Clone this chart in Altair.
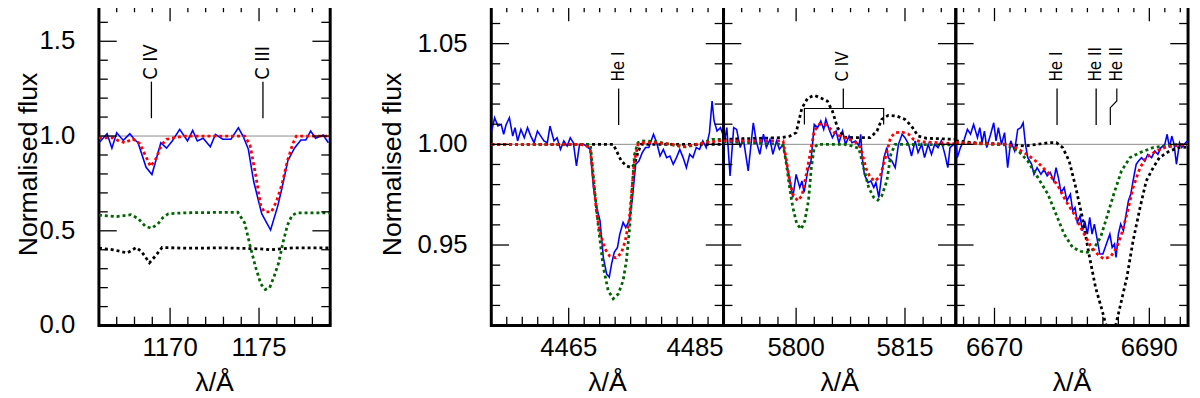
import altair as alt
import pandas as pd

H = 326
FONT = "Liberation Sans"
NARROW = "Liberation Sans Narrow, DejaVu Sans Condensed, Liberation Sans"

# ---------------- UV panel (C IV / C III) ----------------
UV_XDOM = [1166, 1179]
UV_YDOM = [0.0, 1.7]
UV_XMAJ = [1170, 1175]
UV_XMIN = [1167, 1168, 1169, 1171, 1172, 1173, 1174, 1176, 1177, 1178]
UV_YLAB = [0.0, 0.5, 1.0, 1.5]
UV_YMAJ = [0.5, 1.0, 1.5]
UV_YMIN = [0.1, 0.2, 0.3, 0.4, 0.6, 0.7, 0.8, 0.9, 1.1, 1.2, 1.3, 1.4, 1.6]
UV_OBS = [(1166.0, 0.965), (1166.46, 1.012), (1166.73, 0.936), (1167.0, 1.017), (1167.37, 0.977),
          (1167.74, 1.012), (1167.98, 0.983), (1168.2, 0.965), (1168.65, 0.835), (1168.98, 0.797),
          (1169.48, 0.965), (1169.8, 0.936), (1170.12, 0.974), (1170.54, 1.035), (1170.98, 0.974),
          (1171.27, 1.03), (1171.53, 0.974), (1171.86, 0.988), (1172.26, 0.943), (1172.55, 1.009),
          (1172.96, 0.983), (1173.42, 0.983), (1173.84, 1.043), (1174.1, 1.0), (1174.4, 0.93),
          (1174.7, 0.76), (1175.15, 0.59), (1175.65, 0.504), (1176.05, 0.63), (1176.3, 0.73),
          (1176.62, 0.87), (1176.99, 0.936), (1177.35, 0.979), (1177.63, 0.979), (1177.9, 1.026),
          (1178.18, 0.988), (1178.6, 1.005), (1178.9, 0.965)]
UV_COMP = [(1166.0, 0.99), (1166.8, 0.99), (1167.1, 0.975), (1167.45, 0.965), (1167.9, 0.985),
           (1168.3, 0.96), (1168.6, 0.90), (1168.9, 0.84), (1169.2, 0.88), (1169.5, 0.95),
           (1169.8, 0.983), (1170.2, 0.99), (1170.8, 1.0), (1174.2, 1.0), (1174.5, 0.95),
           (1174.8, 0.80), (1175.1, 0.63), (1175.3, 0.60), (1175.7, 0.60), (1176.0, 0.66),
           (1176.3, 0.75), (1176.6, 0.87), (1176.9, 0.96), (1177.1, 1.0), (1179.0, 1.0)]
UV_PRIM = [(1166.0, 0.583), (1167.0, 0.575), (1167.8, 0.585), (1168.2, 0.565), (1168.6, 0.525),
           (1168.95, 0.513), (1169.3, 0.535), (1169.6, 0.57), (1169.9, 0.59), (1170.8, 0.595),
           (1173.8, 0.598), (1174.2, 0.54), (1174.5, 0.42), (1174.8, 0.31), (1175.1, 0.22),
           (1175.35, 0.19), (1175.6, 0.20), (1175.85, 0.26), (1176.1, 0.33), (1176.35, 0.44),
           (1176.6, 0.53), (1176.85, 0.58), (1177.1, 0.594), (1179.0, 0.594)]
UV_SEC = [(1166.0, 0.409), (1166.8, 0.40), (1167.6, 0.383), (1168.1, 0.412), (1168.4, 0.39),
          (1168.84, 0.331), (1169.2, 0.37), (1169.55, 0.412), (1171.0, 0.408), (1173.0, 0.41),
          (1175.0, 0.405), (1175.6, 0.40), (1176.2, 0.405), (1177.0, 0.41), (1179.0, 0.41)]
UV_IDS = [("C IV", 1168.95), ("C III", 1175.22)]
UV_ID_FTEXT = 1.297
UV_ID_F = [1.094, 1.287]

# ---------------- He I 4471 panel ----------------
P2_XDOM = [4455, 4485]
P2_XMAJ = [4465, 4485]
P2_XFLUSH = [4485]
P2_XMIN = [4457, 4459, 4461, 4463, 4467, 4469, 4471, 4473, 4475, 4477, 4479, 4481, 4483]
P2_OBS = [(4455.0, 1.0058), (4455.43, 1.0132), (4455.85, 1.0091), (4456.28, 1.0099), (4456.6, 1.005),
          (4456.9, 1.0096), (4457.34, 1.0132), (4457.77, 1.0041), (4458.07, 1.0083), (4458.4, 1.0017),
          (4458.83, 1.0074), (4459.26, 1.0033), (4459.68, 1.0083), (4460.1, 1.0041), (4460.53, 1.0008),
          (4460.96, 1.0066), (4461.39, 1.0041), (4461.8, 1.0017), (4462.24, 1.0008), (4462.58, 1.0091),
          (4463.1, 1.0017), (4463.5, 1.0033), (4463.94, 0.9975), (4464.37, 1.0017), (4464.8, 0.9992),
          (4465.2, 1.0033), (4465.6, 1.0008), (4466.0, 0.9893), (4466.4, 1.0), (4466.92, 1.0),
          (4467.35, 0.999), (4467.77, 0.9975), (4468.2, 0.9785), (4468.62, 0.9686), (4469.05, 0.962),
          (4469.47, 0.9439), (4469.9, 0.9356), (4470.24, 0.934), (4470.54, 0.9406), (4470.88, 0.9464),
          (4471.3, 0.9488), (4471.6, 0.9554), (4472.03, 0.9612), (4472.37, 0.9587), (4472.8, 0.962),
          (4473.2, 0.972), (4473.65, 0.9901), (4474.07, 0.9917), (4474.5, 0.9959), (4474.92, 0.9984),
          (4475.35, 0.9984), (4475.95, 1.005), (4476.37, 1.0008), (4476.8, 0.9942), (4477.22, 0.9975),
          (4477.65, 0.9934), (4478.07, 0.9942), (4478.5, 0.9901), (4478.92, 0.9934), (4479.35, 0.9975),
          (4479.78, 0.9934), (4480.2, 0.9884), (4480.63, 0.995), (4481.05, 0.9934), (4481.48, 0.9984),
          (4481.9, 0.9975), (4482.33, 1.0017), (4482.76, 0.9984), (4483.18, 1.0058), (4483.52, 1.0215),
          (4483.78, 1.0116), (4484.16, 1.0066), (4484.6, 1.0083), (4485.0, 1.0041)]
P2_COMP = [(4455.0, 1.0), (4466.5, 1.0), (4467.4, 0.999), (4467.8, 0.997), (4468.2, 0.982),
           (4468.6, 0.966), (4469.05, 0.956), (4469.7, 0.948), (4470.3, 0.9445), (4471.1, 0.9436),
           (4471.8, 0.946), (4472.3, 0.952), (4472.8, 0.962), (4473.1, 0.975), (4473.5, 0.992),
           (4473.95, 1.0), (4474.6, 1.0008), (4476.3, 1.0008), (4478.4, 1.0), (4479.7, 0.9987),
           (4481.0, 0.9997), (4482.7, 1.0008), (4485.0, 1.002)]
P2_PRIM = [(4455.0, 1.0), (4467.8, 1.0), (4468.4, 0.9752), (4468.84, 0.9587), (4469.47, 0.9389),
           (4470.1, 0.9274), (4470.75, 0.9233), (4471.4, 0.9257), (4472.03, 0.9323), (4472.45, 0.9422),
           (4472.88, 0.9587), (4473.2, 0.9785), (4473.5, 0.995), (4473.94, 1.0008), (4474.6, 1.0017),
           (4476.3, 1.0013), (4478.4, 0.9997), (4480.1, 0.9987), (4481.8, 1.0), (4483.5, 1.0025),
           (4485.0, 1.0025)]
P2_SEC = [(4455.0, 1.0), (4470.75, 1.0), (4471.18, 0.9967), (4471.8, 0.9917), (4472.45, 0.9893),
          (4473.1, 0.9884), (4473.5, 0.99), (4473.94, 0.9959), (4474.37, 1.0), (4485.0, 1.0)]
P2_IDS = [("He I", 4471.45)]

# ---------------- C IV 5801/5812 panel ----------------
P3_XDOM = [5790, 5822]
P3_XMAJ = [5800, 5815]
P3_XMIN = [5792.5, 5795, 5797.5, 5802.5, 5805, 5807.5, 5810, 5812.5, 5817.5, 5820]
P3_OBS = [(5790.0, 0.9984), (5790.45, 1.0083), (5790.9, 0.9843), (5791.4, 1.0083), (5791.8, 1.0074),
          (5792.3, 0.9984), (5792.7, 1.0033), (5793.4, 0.9868), (5794.1, 1.0107), (5794.5, 1.0017),
          (5795.0, 0.995), (5795.5, 1.005), (5795.9, 0.9984), (5796.4, 1.0025), (5796.8, 0.995),
          (5797.3, 1.0017), (5797.7, 0.9975), (5798.2, 1.0), (5798.6, 0.9917), (5799.1, 0.9835),
          (5799.55, 0.9736), (5800.0, 0.9851), (5800.5, 0.9785), (5800.8, 0.9818), (5801.1, 0.9761),
          (5801.6, 0.9868), (5802.05, 0.9917), (5802.5, 1.0099), (5802.96, 1.0083), (5803.4, 1.0116),
          (5803.8, 1.0074), (5804.1, 1.0124), (5804.55, 1.0074), (5805.0, 1.0033), (5805.5, 1.0066),
          (5805.9, 1.0008), (5806.4, 1.0066), (5806.8, 1.0), (5807.3, 1.0041), (5807.7, 1.0008),
          (5808.2, 1.0017), (5808.65, 0.9992), (5808.9, 1.005), (5809.1, 0.9934), (5809.4, 0.9851),
          (5809.9, 0.981), (5810.3, 0.9818), (5810.7, 0.9785), (5811.0, 0.981), (5811.4, 0.9736),
          (5811.8, 0.9851), (5812.1, 0.9934), (5812.5, 0.9984), (5812.7, 0.9934), (5813.2, 0.9917),
          (5813.65, 0.9884), (5814.1, 1.0), (5814.6, 1.005), (5815.0, 1.0033), (5815.5, 1.0),
          (5815.9, 0.9942), (5816.4, 1.0017), (5816.8, 0.9959), (5817.3, 1.0), (5817.7, 0.9934),
          (5818.2, 1.0), (5818.65, 0.995), (5819.1, 1.0), (5819.55, 0.9984), (5820.0, 1.0017),
          (5820.5, 0.995), (5820.9, 0.9884), (5821.2, 0.9984), (5821.7, 1.0), (5822.0, 1.0008)]
P3_COMP = [(5790.0, 1.0017), (5798.2, 1.0017), (5798.6, 0.9934), (5799.1, 0.9818), (5799.55, 0.9752),
           (5800.2, 0.972), (5800.8, 0.9744), (5801.4, 0.9851), (5802.0, 0.9967), (5802.5, 1.0066),
           (5803.2, 1.0099), (5803.9, 1.0099), (5804.55, 1.0083), (5805.5, 1.005), (5806.6, 1.0033),
           (5808.0, 1.0017), (5808.9, 0.9984), (5809.6, 0.9884), (5810.2, 0.9835), (5810.9, 0.9818),
           (5811.6, 0.9843), (5812.3, 0.9934), (5813.0, 1.0033), (5813.65, 1.0058), (5814.6, 1.0061),
           (5815.5, 1.005), (5816.15, 1.0025), (5817.1, 1.0013), (5819.8, 1.0008), (5822.0, 1.0003)]
P3_PRIM = [(5790.0, 1.0013), (5798.2, 1.0), (5798.6, 0.9917), (5799.1, 0.9785), (5799.55, 0.9686),
           (5800.1, 0.9604), (5800.7, 0.9579), (5801.2, 0.962), (5801.7, 0.972), (5802.1, 0.9884),
           (5802.5, 0.9984), (5803.0, 1.0), (5807.0, 1.0), (5808.65, 0.998), (5809.3, 0.9884),
           (5810.0, 0.9785), (5810.7, 0.9736), (5811.25, 0.9723), (5811.8, 0.9744), (5812.5, 0.9818),
           (5813.05, 0.995), (5813.65, 1.0), (5822.0, 0.9997)]
P3_SEC = [(5790.0, 1.0025), (5798.0, 1.0033), (5799.1, 1.004), (5800.0, 1.0058), (5800.8, 1.018),
          (5801.6, 1.023), (5802.5, 1.0243), (5803.4, 1.023), (5804.3, 1.0215), (5805.0, 1.0165),
          (5805.7, 1.0083), (5806.6, 1.0036), (5808.0, 1.0033), (5810.2, 1.0033), (5811.15, 1.0066),
          (5811.8, 1.0124), (5812.7, 1.0144), (5813.9, 1.014), (5815.0, 1.0124), (5815.9, 1.0091),
          (5816.8, 1.0041), (5818.0, 1.003), (5822.0, 1.0025)]
P3_IDS = [("C IV", 5806.4)]
P3_BRACKET = [(5801.14, 1.0099), (5801.14, 1.0178), (5812.06, 1.0178), (5812.06, 1.0099)]
P3_STEM = [(5806.5, 1.0178, 1.0277)]

# ---------------- He I 6678 / He II 6683 panel ----------------
P4_XDOM = [6665, 6695]
P4_XMAJ = [6670, 6690]
P4_XMIN = [6666, 6668, 6672, 6674, 6676, 6678, 6680, 6682, 6684, 6686, 6688, 6692, 6694]
P4_OBS = [(6665.0, 1.0017), (6665.2, 0.9934), (6665.6, 0.9984), (6666.1, 1.0025), (6666.5, 1.0074),
          (6666.9, 1.005), (6667.3, 1.0099), (6667.8, 1.0033), (6668.1, 1.0083), (6668.4, 1.0008),
          (6668.7, 1.0066), (6669.0, 0.9984), (6669.5, 1.005), (6669.9, 1.0107), (6670.2, 1.0017),
          (6670.5, 1.0083), (6670.9, 1.0), (6671.3, 1.0058), (6671.7, 0.9884), (6672.1, 1.0017),
          (6672.6, 0.9967), (6673.0, 1.0074), (6673.4, 1.0083), (6673.7, 1.0107), (6674.0, 1.0),
          (6674.3, 0.9934), (6674.8, 0.9901), (6675.1, 0.9851), (6675.5, 0.9884), (6676.0, 0.9851),
          (6676.4, 0.9876), (6676.8, 0.9843), (6677.2, 0.986), (6677.65, 0.9818), (6677.95, 0.9884),
          (6678.25, 0.9835), (6678.6, 0.9761), (6679.0, 0.9785), (6679.35, 0.972), (6679.8, 0.9752),
          (6680.1, 0.967), (6680.4, 0.9686), (6680.7, 0.9612), (6681.05, 0.9645), (6681.35, 0.9571),
          (6681.65, 0.962), (6682.0, 0.9554), (6682.3, 0.9637), (6682.6, 0.9554), (6682.9, 0.9604),
          (6683.3, 0.9521), (6683.6, 0.9455), (6684.0, 0.9455), (6684.45, 0.9505), (6684.9, 0.9554),
          (6685.2, 0.9488), (6685.5, 0.9505), (6685.7, 0.9439), (6686.0, 0.9554), (6686.3, 0.9604),
          (6686.65, 0.9571), (6687.0, 0.9653), (6687.3, 0.972), (6687.6, 0.9752), (6687.9, 0.9818),
          (6688.3, 0.9901), (6688.6, 0.9917), (6689.0, 0.9934), (6689.4, 0.9917), (6689.8, 0.995),
          (6690.3, 0.9934), (6690.7, 0.9967), (6691.1, 0.995), (6691.5, 0.9984), (6692.0, 1.0),
          (6692.3, 1.005), (6692.6, 0.9984), (6692.9, 1.0041), (6693.2, 1.0), (6693.5, 0.9901),
          (6693.9, 1.0008), (6694.2, 0.9984), (6694.5, 1.0), (6694.9, 1.0017)]
P4_COMP = [(6665.0, 1.0008), (6671.8, 1.0), (6673.1, 0.9975), (6674.3, 0.9947), (6675.6, 0.9909),
           (6676.9, 0.986), (6678.2, 0.9794), (6679.2, 0.972), (6680.3, 0.9653), (6681.35, 0.9571),
           (6682.4, 0.9497), (6683.3, 0.9455), (6684.1, 0.9431), (6685.0, 0.9442), (6685.8, 0.9488),
           (6686.4, 0.9554), (6687.1, 0.9653), (6687.9, 0.9785), (6688.8, 0.9884), (6689.6, 0.9934),
           (6690.9, 0.9967), (6692.2, 0.9987), (6695.0, 1.0)]
P4_PRIM = [(6665.0, 1.0008), (6671.5, 0.9997), (6673.1, 0.9967), (6674.3, 0.9917), (6675.6, 0.9835),
           (6676.9, 0.9752), (6677.95, 0.9653), (6679.0, 0.9554), (6680.1, 0.9488), (6681.1, 0.9469),
           (6682.0, 0.9464), (6682.8, 0.948), (6683.7, 0.9538), (6684.5, 0.9637), (6685.4, 0.9752),
           (6686.4, 0.9868), (6687.5, 0.9934), (6688.8, 0.9959), (6690.5, 0.9984), (6693.0, 0.9997),
           (6695.0, 1.0)]
P4_SEC = [(6665.0, 1.0017), (6667.5, 1.0008), (6671.5, 1.0), (6673.9, 0.9992), (6675.6, 1.0),
          (6676.9, 1.0008), (6678.0, 1.0008), (6678.8, 0.9984), (6679.65, 0.9917), (6680.5, 0.9785),
          (6681.35, 0.9637), (6682.2, 0.9455), (6683.05, 0.929), (6683.9, 0.9175), (6684.7, 0.906),
          (6685.4, 0.906), (6686.2, 0.9191), (6687.1, 0.934), (6687.9, 0.9521), (6688.8, 0.9686),
          (6689.6, 0.9818), (6690.5, 0.9884), (6691.3, 0.9934), (6692.6, 0.9967), (6693.9, 0.9984),
          (6695.0, 0.9987)]
P4_IDS = [("He I", 6678.05), ("He II", 6683.15), ("He II", 6685.8)]
P4_STRAIGHT = [6678.08, 6683.13]
P4_KINK = [(6685.8, 1.0277), (6685.8, 1.0215), (6684.96, 1.0182), (6684.96, 1.0096)]

# ---------------- shared optical y axis ----------------
OPT_YDOM = [0.91, 1.07]
OPT_YLAB = [0.95, 1.00, 1.05]
OPT_YMAJ = [0.95, 1.00, 1.05]
OPT_YMIN = [0.92, 0.93, 0.94, 0.96, 0.97, 0.98, 0.99, 1.01, 1.02, 1.03, 1.04, 1.06]
OPT_ID_FTEXT = 1.0312
OPT_ID_F = [1.0096, 1.0277]

X_TITLE = "λ/Å"
Y_TITLE = "Normalised flux"

MAJOR_LEN = 18   # tick lengths in pixels
MINOR_LEN = 9


def df(pairs):
    return pd.DataFrame(pairs, columns=["lam", "f"])


def panel(W, xdom, ydom, xmaj, xmin, xflush, ymaj, ymin, ylab, ydec, obs, comp, prim, sec,
          ids, id_ftext, id_f, extras, ytitle_off, id_size):
    xsc = alt.Scale(domain=xdom, nice=False, zero=False)
    ysc = alt.Scale(domain=ydom, nice=False, zero=False)
    xspan = xdom[1] - xdom[0]
    yspan = ydom[1] - ydom[0]

    def X(field):
        return alt.X(field, scale=xsc, axis=None)

    def Y(field):
        return alt.Y(field, scale=ysc, axis=None)

    ref = alt.Chart(pd.DataFrame({"lam": xdom, "f": [1.0, 1.0]})).mark_line(
        color="#8c8c8c", strokeWidth=1).encode(x=X("lam:Q"), y=Y("f:Q"))

    def line(pairs, color, dotted):
        style = dict(strokeWidth=2.8, strokeDash=[3, 3]) if dotted else dict(strokeWidth=1.6)
        return alt.Chart(df(pairs)).mark_line(color=color, clip=True, **style).encode(
            x=X("lam:Q"), y=Y("f:Q"))

    layers = [ref, line(obs, "#0000ff", False), line(sec, "black", True),
              line(prim, "#006400", True), line(comp, "#ff0000", True)]

    # all straight segments (inward ticks on four sides + line-identification marks)
    seg = []
    for vals, ln in ((xmaj, MAJOR_LEN), (xmin, MINOR_LEN)):
        d = ln / H * yspan
        for v in vals:
            seg.append((v, ydom[0], v, ydom[0] + d))
            seg.append((v, ydom[1], v, ydom[1] - d))
    for vals, ln in ((ymaj, MAJOR_LEN), (ymin, MINOR_LEN)):
        d = ln / W * xspan
        for v in vals:
            seg.append((xdom[0], v, xdom[0] + d, v))
            seg.append((xdom[1], v, xdom[1] - d, v))
    straight = extras.get("straight", [lam for _, lam in ids])
    for lam in straight:
        seg.append((lam, id_f[0], lam, id_f[1]))
    for lam, f1, f2 in extras.get("stem", []):
        seg.append((lam, f1, lam, f2))
    seg_df = pd.DataFrame(seg, columns=["sx", "sy", "sx2", "sy2"])
    layers.append(alt.Chart(seg_df).mark_rule(color="black", strokeWidth=1.3).encode(
        x=X("sx:Q"), y=Y("sy:Q"), x2="sx2:Q", y2="sy2:Q"))

    # tick labels and titles as text placed through the scales
    lab = dict(font=FONT, fontSize=26, color="black")
    for vals, al in (([v for v in xmaj if v not in xflush], "center"), (xflush, "right")):
        if vals:
            d = pd.DataFrame({"lam": vals, "f": ydom[0], "txt": [str(v) for v in vals]})
            layers.append(alt.Chart(d).mark_text(
                align=al, baseline="alphabetic", dy=31, **lab).encode(
                x=X("lam:Q"), y=Y("f:Q"), text="txt:N"))
    xt_title = pd.DataFrame({"lam": [(xdom[0] + xdom[1]) / 2], "f": [ydom[0]], "txt": [X_TITLE]})
    layers.append(alt.Chart(xt_title).mark_text(
        align="center", baseline="alphabetic", dy=66, font=FONT, fontSize=27,
        color="black").encode(x=X("lam:Q"), y=Y("f:Q"), text="txt:N"))
    if ytitle_off:
        yl = pd.DataFrame({"lam": xdom[0], "f": ylab,
                           "txt": [f"{v:.{ydec}f}" for v in ylab]})
        layers.append(alt.Chart(yl).mark_text(
            align="right", baseline="middle", dx=-24, **lab).encode(
            x=X("lam:Q"), y=Y("f:Q"), text="txt:N"))
        yt_title = pd.DataFrame({"lam": [xdom[0]], "f": [(ydom[0] + ydom[1]) / 2],
                                 "txt": [Y_TITLE]})
        layers.append(alt.Chart(yt_title).mark_text(
            angle=270, align="center", baseline="alphabetic", dy=-ytitle_off, font=FONT,
            fontSize=27, color="black").encode(x=X("lam:Q"), y=Y("f:Q"), text="txt:N"))

    ids_df = pd.DataFrame(ids, columns=["txt", "lam"])
    ids_df["f"] = id_ftext
    layers.append(alt.Chart(ids_df).mark_text(
        angle=270, align="left", baseline="middle", font=NARROW, fontSize=id_size,
        color="black").encode(x=X("lam:Q"), y=Y("f:Q"), text="txt:N"))

    for key in ("bracket", "kink"):
        if key in extras:
            pdf = df(extras[key])
            pdf["i"] = range(len(pdf))
            layers.append(alt.Chart(pdf).mark_line(color="black", strokeWidth=1.2).encode(
                x=X("lam:Q"), y=Y("f:Q"), order="i:Q"))

    return alt.layer(*layers).properties(width=W, height=H)


uv = panel(234, UV_XDOM, UV_YDOM, UV_XMAJ, UV_XMIN, [], UV_YMAJ, UV_YMIN, UV_YLAB, 1,
           UV_OBS, UV_COMP, UV_PRIM, UV_SEC, UV_IDS, UV_ID_FTEXT, UV_ID_F, {}, 63, 20)
p2 = panel(235, P2_XDOM, OPT_YDOM, P2_XMAJ, P2_XMIN, P2_XFLUSH, OPT_YMAJ, OPT_YMIN, OPT_YLAB, 2,
           P2_OBS, P2_COMP, P2_PRIM, P2_SEC, P2_IDS, OPT_ID_FTEXT, OPT_ID_F, {}, 91, 17)
p3 = panel(235, P3_XDOM, OPT_YDOM, P3_XMAJ, P3_XMIN, [], OPT_YMAJ, OPT_YMIN, OPT_YLAB, 2,
           P3_OBS, P3_COMP, P3_PRIM, P3_SEC, P3_IDS, OPT_ID_FTEXT, OPT_ID_F,
           {"straight": [], "bracket": P3_BRACKET, "stem": P3_STEM}, 0, 17)
p4 = panel(235, P4_XDOM, OPT_YDOM, P4_XMAJ, P4_XMIN, [], OPT_YMAJ, OPT_YMIN, OPT_YLAB, 2,
           P4_OBS, P4_COMP, P4_PRIM, P4_SEC, P4_IDS, OPT_ID_FTEXT, OPT_ID_F,
           {"straight": P4_STRAIGHT, "kink": P4_KINK}, 0, 17)

spacer = alt.Chart(pd.DataFrame({"lam": [0.0]})).mark_point(opacity=0).encode(
    x=alt.X("lam:Q", axis=None), y=alt.Y("lam:Q", axis=None)).properties(
    width=163, height=H, view=alt.ViewBackground(strokeOpacity=0))

chart = alt.hconcat(uv, spacer, p2, p3, p4, spacing=0, bounds="flush").properties(
    padding={"left": 5, "top": -10, "right": 0, "bottom": 0}
).configure_view(stroke="black", strokeWidth=3)

chart.save("out.html", embed_options={"renderer": "svg", "actions": False})
